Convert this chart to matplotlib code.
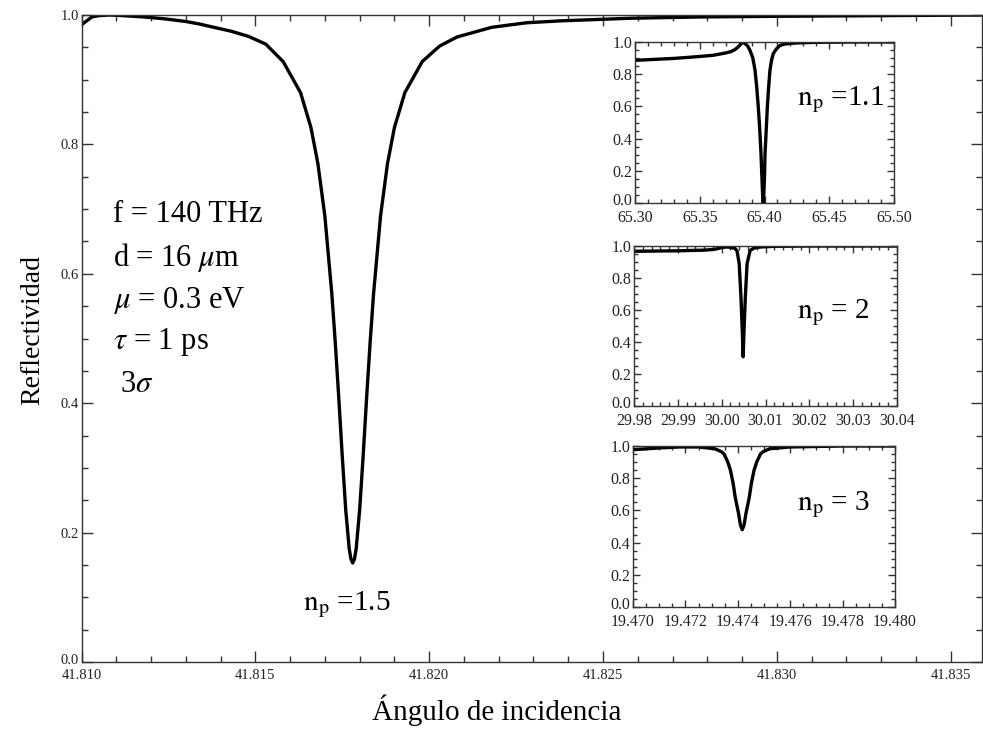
import matplotlib
matplotlib.use("Agg")
import matplotlib.pyplot as plt
import matplotlib.transforms as mtransforms
from matplotlib.ticker import MultipleLocator, FormatStrFormatter

plt.rcParams['font.family'] = ['Liberation Serif', 'DejaVu Serif']
plt.rcParams['mathtext.fontset'] = 'stix'

# ---- main curve (np = 1.5) ----
main_x = [41.8100, 41.8101, 41.8102, 41.8103, 41.8105, 41.8108, 41.8112, 41.8118,
          41.8124, 41.8130, 41.8134, 41.8138, 41.8143, 41.8148, 41.8153, 41.8158,
          41.8163, 41.8166, 41.8168, 41.8170, 41.8172, 41.8173, 41.8174, 41.8175,
          41.8176, 41.8177, 41.81775, 41.8178, 41.81785, 41.8179, 41.8180, 41.8181,
          41.8182, 41.8183, 41.8184, 41.8186, 41.8188, 41.8190, 41.8193, 41.8198,
          41.8203, 41.8208, 41.8218, 41.8228, 41.8238, 41.8258, 41.8278, 41.8300,
          41.8330, 41.8359]
main_y = [0.985, 0.989, 0.993, 0.997, 0.999, 1.000, 0.999, 0.997,
          0.994, 0.990, 0.986, 0.981, 0.975, 0.967, 0.955, 0.928,
          0.880, 0.826, 0.770, 0.689, 0.569, 0.493, 0.408, 0.318,
          0.235, 0.175, 0.159, 0.153, 0.159, 0.175, 0.235, 0.318,
          0.408, 0.493, 0.569, 0.689, 0.770, 0.826, 0.880, 0.928,
          0.952, 0.966, 0.981, 0.988, 0.991, 0.995, 0.997, 0.998,
          0.999, 1.000]

# ---- inset 1 (np = 1.1) ----
in1_x = [65.300, 65.330, 65.345, 65.360, 65.370, 65.374, 65.377, 65.379, 65.381,
         65.3825, 65.3835, 65.385, 65.387, 65.3888, 65.391, 65.3927, 65.394,
         65.3952, 65.396, 65.3967, 65.3973, 65.3980, 65.3985, 65.3990, 65.3995,
         65.4000, 65.4004, 65.4010, 65.4016, 65.4022, 65.4032, 65.4042, 65.4055,
         65.4068, 65.409, 65.412, 65.416, 65.424, 65.440, 65.470, 65.500]
in1_y = [0.886, 0.898, 0.907, 0.917, 0.932, 0.940, 0.952, 0.965, 0.980,
         0.995, 0.998, 0.990, 0.975, 0.948, 0.900, 0.824, 0.720,
         0.596, 0.500, 0.400, 0.306, 0.160, 0.060, 0.000, 0.060,
         0.160, 0.306, 0.400, 0.500, 0.596, 0.720, 0.824, 0.890,
         0.928, 0.955, 0.979, 0.988, 0.994, 0.998, 1.000, 1.000]

# ---- inset 2 (np = 2) ----
in2_x = [29.980, 29.990, 29.996, 29.998, 29.999, 30.000, 30.001, 30.002, 30.003,
         30.0035, 30.0040, 30.0044, 30.0047, 30.0049, 30.0051, 30.0054, 30.0058,
         30.0065, 30.0075, 30.009, 30.012, 30.020, 30.040]
in2_y = [0.967, 0.970, 0.974, 0.978, 0.983, 0.990, 0.994, 0.992, 0.985,
         0.970, 0.890, 0.682, 0.474, 0.308, 0.474, 0.682, 0.890,
         0.973, 0.988, 0.994, 0.998, 1.000, 1.000]

# ---- inset 3 (np = 3) ----
in3_x = [19.4700, 19.4710, 19.4718, 19.4725, 19.47312, 19.47337, 19.47347,
         19.47362, 19.47372, 19.47382, 19.4739, 19.47403, 19.4741, 19.47417,
         19.47424, 19.47431, 19.47444, 19.47452, 19.47462, 19.47472, 19.47487,
         19.47497, 19.47522, 19.4760, 19.4780, 19.4800]
in3_y = [0.977, 0.988, 0.994, 0.994, 0.983, 0.965, 0.952,
         0.900, 0.849, 0.770, 0.683, 0.580, 0.510, 0.480,
         0.510, 0.580, 0.683, 0.770, 0.849, 0.900, 0.952,
         0.965, 0.983, 0.994, 1.000, 1.000]

params = ["f = 140 THz", r"d = 16 $\mu$m", r"$\mu$ = 0.3 eV", r"$\tau$ = 1 ps", r" 3$\sigma$"]

W, H = 983, 733
fig = plt.figure(figsize=(W / 100, H / 100), dpi=100)

def style(ax, xmaj, xmin, ymaj, ymin, fmt, fs, majlen, minlen, xpad):
    ax.xaxis.set_major_locator(MultipleLocator(xmaj))
    ax.xaxis.set_minor_locator(MultipleLocator(xmin))
    ax.yaxis.set_major_locator(MultipleLocator(ymaj))
    ax.yaxis.set_minor_locator(MultipleLocator(ymin))
    ax.xaxis.set_major_formatter(FormatStrFormatter(fmt))
    ax.yaxis.set_major_formatter(FormatStrFormatter('%.1f'))
    ax.tick_params(which='both', direction='in', top=True, right=True,
                   labelsize=fs, colors='#333333', labelcolor='#222222', width=1)
    ax.tick_params(which='major', length=majlen)
    ax.tick_params(which='minor', length=minlen)
    ax.tick_params(axis='x', pad=xpad)
    ax.tick_params(axis='y', pad=2)
    for s in ax.spines.values():
        s.set_color('#333333')
        s.set_linewidth(1.0)

def lift_zero_label(ax, px):
    fig.canvas.draw()
    for lbl in ax.get_yticklabels():
        if lbl.get_text() == '0.0':
            lbl.set_transform(lbl.get_transform() +
                              mtransforms.ScaledTranslation(0, px / 100, fig.dpi_scale_trans))

ax = fig.add_axes([81.5 / W, 1 - 662 / H, (982 - 81.5) / W, (662 - 15) / H])
ax.plot(main_x, main_y, color='black', lw=2.4, solid_joinstyle='round')
ax.set_xlim(41.810, 41.8359)
ax.set_ylim(0, 1.0)
style(ax, 0.005, 0.001, 0.2, 0.05, '%.3f', 10.5, 8, 4, 5)

fig.text(497 / W, 1 - 710 / H, "Ángulo de incidencia", fontsize=21, va='center', ha='center')
fig.text(33 / W, 1 - 330 / H, "Reflectividad", fontsize=20, va='center', ha='center',
         rotation=90)

for i, t in enumerate(params):
    fig.text(113 / W, 1 - (215 + i * 42.5) / H, t, fontsize=22, va='center', ha='left')
fig.text(303 / W, 1 - 605 / H, r"$\mathrm{n_p}$ =1.5", fontsize=21, va='center', ha='left')

insets = [
    ([635, 894, 42, 203], in1_x, in1_y, (65.30, 65.50), 0.05, 0.01, '%.2f', r"$\mathrm{n_p}$ =1.1", 100),
    ([634, 897, 246, 406], in2_x, in2_y, (29.98, 30.04), 0.01, 0.002, '%.2f', r"$\mathrm{n_p}$ = 2", 313),
    ([633, 895, 446, 607], in3_x, in3_y, (19.470, 19.480), 0.002, 0.0005, '%.3f', r"$\mathrm{n_p}$ = 3", 505),
]
inset_axes = []
for (l, r, t, b), xs, ys, xl, xmaj, xmin, fmt, lab, ly in insets:
    ia = fig.add_axes([l / W, 1 - b / H, (r - l) / W, (b - t) / H])
    ia.plot(xs, ys, color='black', lw=2.4, solid_joinstyle='round')
    ia.set_xlim(*xl)
    ia.set_ylim(0, 1.0)
    style(ia, xmaj, xmin, 0.2, 0.05, fmt, 11.5, 5, 3, 5)
    fig.text(797 / W, 1 - ly / H, lab, fontsize=21, va='center', ha='left')
    inset_axes.append(ia)

for ia in inset_axes:
    lift_zero_label(ia, 4)
lift_zero_label(ax, 3)

fig.savefig("out.png", dpi=100)
